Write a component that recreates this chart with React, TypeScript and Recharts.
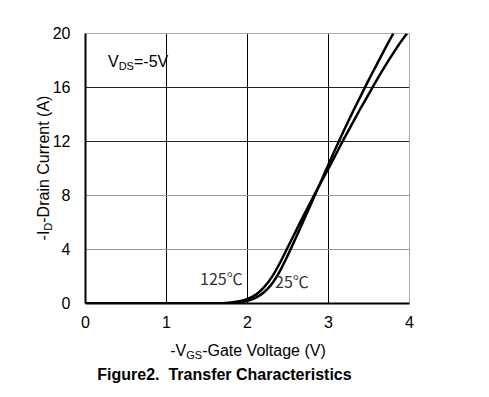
import React from 'react';
import { LineChart, Line, XAxis, YAxis, CartesianGrid, ReferenceLine } from 'recharts';

const xTicks = [0, 1, 2, 3, 4];
const yTicks = [0, 4, 8, 12, 16, 20];
const gridX = [1, 2, 3];
const gridYDark = [12, 16];
const gridYLight = [4, 8];

const vgs125 = [0, 1.55, 1.7, 1.8, 1.9, 2.0, 2.1, 2.2, 2.3, 2.4, 2.5, 2.6, 2.7, 2.8, 2.9, 3.0, 3.1, 3.2, 3.3, 3.4, 3.5, 3.6, 3.7, 3.8, 3.9, 3.97];
const id125 = [0, 0, 0.025, 0.07, 0.16, 0.34, 0.64, 1.17, 1.95, 3.0, 4.2, 5.4, 6.6, 7.75, 8.9, 10.0, 11.15, 12.3, 13.4, 14.5, 15.55, 16.6, 17.6, 18.55, 19.45, 20];

const vgs25 = [0, 1.75, 1.8, 1.9, 2.0, 2.1, 2.2, 2.3, 2.4, 2.5, 2.6, 2.7, 2.8, 2.9, 3.0, 3.1, 3.2, 3.3, 3.4, 3.5, 3.6, 3.7, 3.8];
const id25 = [0, 0, 0.02, 0.08, 0.2, 0.42, 0.82, 1.45, 2.4, 3.6, 4.9, 6.25, 7.6, 8.95, 10.3, 11.65, 12.95, 14.2, 15.4, 16.6, 17.75, 18.9, 20];

const data125 = vgs125.map((v, i) => ({ v, i: id125[i] }));
const data25 = vgs25.map((v, i) => ({ v, i: id25[i] }));

const font = '"Liberation Sans", Arial, sans-serif';
const subStyle: React.CSSProperties = { fontSize: 11, verticalAlign: 'baseline', position: 'relative', top: 3 };

export default function App() {
  return (
    <div style={{ position: 'absolute', left: 0, top: 0, width: 489, height: 397, background: '#fff', fontFamily: font }}>
      <LineChart width={489} height={397} margin={{ top: 33.5, right: 79.5, bottom: 63.5, left: 35.5 }}>
        <CartesianGrid horizontal={false} vertical={false} />
        {gridX.map((x) => (
          <ReferenceLine key={'x' + x} x={x} stroke="#000" strokeWidth={1} />
        ))}
        {gridYLight.map((y) => (
          <ReferenceLine key={'l' + y} y={y} stroke="#999" strokeWidth={1} />
        ))}
        {gridYDark.map((y) => (
          <ReferenceLine key={'d' + y} y={y} stroke="#222" strokeWidth={1} />
        ))}
        <ReferenceLine y={20} stroke="#aaa" strokeWidth={1} />
        <ReferenceLine x={4} stroke="#aaa" strokeWidth={1} />
        <XAxis
          type="number"
          dataKey="v"
          domain={[0, 4]}
          ticks={xTicks}
          height={30}
          tickSize={0}
          tickMargin={13}
          axisLine={{ stroke: '#000', strokeWidth: 2 }}
          tick={{ fill: '#000', fontSize: 16, fontFamily: font }}
          allowDataOverflow
        />
        <YAxis
          type="number"
          domain={[0, 20]}
          ticks={yTicks}
          width={50}
          tickSize={0}
          tickMargin={15}
          axisLine={{ stroke: '#000', strokeWidth: 2 }}
          tick={{ fill: '#000', fontSize: 16, fontFamily: font }}
          allowDataOverflow
        />
        <Line data={data125} dataKey="i" type="monotone" stroke="#000" strokeWidth={2.5} dot={false} isAnimationActive={false} />
        <Line data={data25} dataKey="i" type="monotone" stroke="#000" strokeWidth={2.5} dot={false} isAnimationActive={false} />
      </LineChart>
      <div style={{ position: 'absolute', left: 108, top: 53, fontSize: 16, color: '#000', whiteSpace: 'nowrap' }}>
        V<sub style={subStyle}>DS</sub>=-5V
      </div>
      <div style={{ position: 'absolute', left: 200, top: 266, fontSize: 16, color: '#333', whiteSpace: 'nowrap', fontFamily: '"Noto Sans CJK SC", sans-serif' }}>
        125℃
      </div>
      <div style={{ position: 'absolute', left: 275, top: 269, fontSize: 16, color: '#333', whiteSpace: 'nowrap', fontFamily: '"Noto Sans CJK SC", sans-serif' }}>
        25℃
      </div>
      <div style={{ position: 'absolute', left: 0, width: 496, top: 342, textAlign: 'center', fontSize: 16, color: '#000', whiteSpace: 'nowrap' }}>
        -V<sub style={subStyle}>GS</sub>-Gate Voltage (V)
      </div>
      <div style={{ position: 'absolute', left: 0, width: 449, top: 366, textAlign: 'center', fontSize: 16, fontWeight: 'bold', color: '#000', whiteSpace: 'nowrap' }}>
        Figure2.&nbsp; Transfer Characteristics
      </div>
      <div
        style={{
          position: 'absolute',
          left: 44,
          top: 168,
          transform: 'translate(-50%, -50%) rotate(-90deg)',
          fontSize: 16,
          color: '#000',
          whiteSpace: 'nowrap',
        }}
      >
        -I<sub style={subStyle}>D</sub>-Drain Current (A)
      </div>
    </div>
  );
}
